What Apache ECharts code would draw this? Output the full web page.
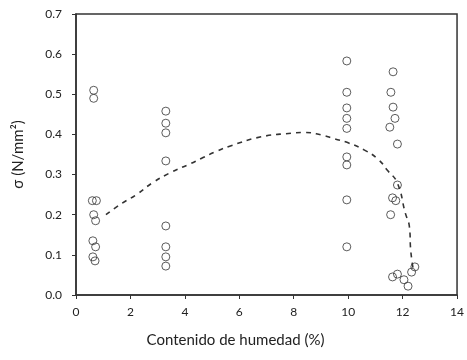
<!DOCTYPE html>
<html>
<head>
<meta charset="utf-8">
<script src="https://cdn.jsdelivr.net/npm/echarts@6/dist/echarts.min.js"></script>
<style>html,body{margin:0;padding:0;background:#fff;}#c{width:467px;height:360px;}</style>
</head>
<body>
<div id="c"></div>
<script>
// Measured points: moisture content (%) and stress (N/mm²)
const moisture = [
  0.65, 0.65, 0.6, 0.75, 0.65, 0.72, 0.62, 0.72, 0.62, 0.7,
  3.3, 3.3, 3.3, 3.3, 3.3, 3.3, 3.3, 3.3,
  9.95, 9.95, 9.95, 9.95, 9.95, 9.95, 9.95, 9.95, 9.95,
  11.65, 11.57, 11.65, 11.72, 11.53, 11.81, 11.81, 11.63, 11.75, 11.56,
  11.63, 11.81, 12.05, 12.2, 12.33, 12.45
];
const stress = [
  0.51, 0.49, 0.235, 0.235, 0.2, 0.185, 0.135, 0.12, 0.095, 0.085,
  0.458, 0.428, 0.404, 0.334, 0.172, 0.12, 0.095, 0.072,
  0.583, 0.505, 0.466, 0.44, 0.415, 0.344, 0.324, 0.237, 0.12,
  0.556, 0.505, 0.468, 0.44, 0.418, 0.376, 0.274, 0.242, 0.235, 0.2,
  0.045, 0.052, 0.038, 0.022, 0.057, 0.07
];
// Dashed trend curve
const trendX = [1.1, 1.7, 2.2, 2.8, 3.5, 4.1, 4.6, 5.1, 5.7, 6.8, 7.9, 8.4, 9.0, 9.5, 10.0, 10.6, 11.1, 11.45, 11.8, 12.1, 12.25, 12.3, 12.4];
const trendY = [0.2, 0.229, 0.249, 0.279, 0.306, 0.324, 0.34, 0.356, 0.372, 0.394, 0.403, 0.405, 0.399, 0.389, 0.379, 0.361, 0.338, 0.31, 0.28, 0.204, 0.17, 0.11, 0.06];
const xTicks = [0, 2, 4, 6, 8, 10, 12, 14];
const yTicks = [0, 0.1, 0.2, 0.3, 0.4, 0.5, 0.6, 0.7];

const FONT = 'Lato';
const chart = echarts.init(document.getElementById('c'), null, {renderer: 'canvas'});
chart.setOption({
  animation: false,
  backgroundColor: '#fff',
  grid: {left: 76, right: 7, top: 14, bottom: 65, show: true, borderColor: '#333', borderWidth: 1.5, backgroundColor: 'transparent'},
  xAxis: {
    type: 'value', min: xTicks[0], max: xTicks[xTicks.length - 1], interval: 2,
    name: 'Contenido de humedad (%)', nameLocation: 'middle', nameGap: 38,
    nameTextStyle: {fontFamily: FONT, fontSize: 15, color: '#222', padding: [0, 62, 0, 0]},
    axisLine: {show: true, lineStyle: {color: '#333', width: 1.5}},
    axisTick: {show: true, length: 4, lineStyle: {color: '#333'}},
    axisLabel: {fontFamily: FONT, fontSize: 12, color: '#222', margin: 11},
    splitLine: {show: false}
  },
  yAxis: {
    type: 'value', min: yTicks[0], max: yTicks[yTicks.length - 1], interval: 0.1,
    name: 'σ (N/mm²)', nameLocation: 'middle', nameGap: 50, nameRotate: 90,
    nameTextStyle: {fontFamily: FONT, fontSize: 15, color: '#222'},
    axisLine: {show: true, lineStyle: {color: '#333', width: 1.5}},
    axisTick: {show: true, length: 4, lineStyle: {color: '#333'}},
    axisLabel: {fontFamily: FONT, fontSize: 12, color: '#222', margin: 14, formatter: v => v.toFixed(1)},
    splitLine: {show: false}
  },
  series: [
    {
      type: 'scatter', symbol: 'circle', symbolSize: 8,
      itemStyle: {color: 'rgba(255,255,255,0)', borderColor: '#333', borderWidth: 1},
      data: moisture.map((x, i) => [x, stress[i]]), z: 3
    },
    {
      type: 'line', smooth: true, symbol: 'none',
      lineStyle: {color: '#333', width: 1.6, type: [5, 5]},
      data: trendX.map((x, i) => [x, trendY[i]]), z: 2
    }
  ]
});
</script>
</body>
</html>
